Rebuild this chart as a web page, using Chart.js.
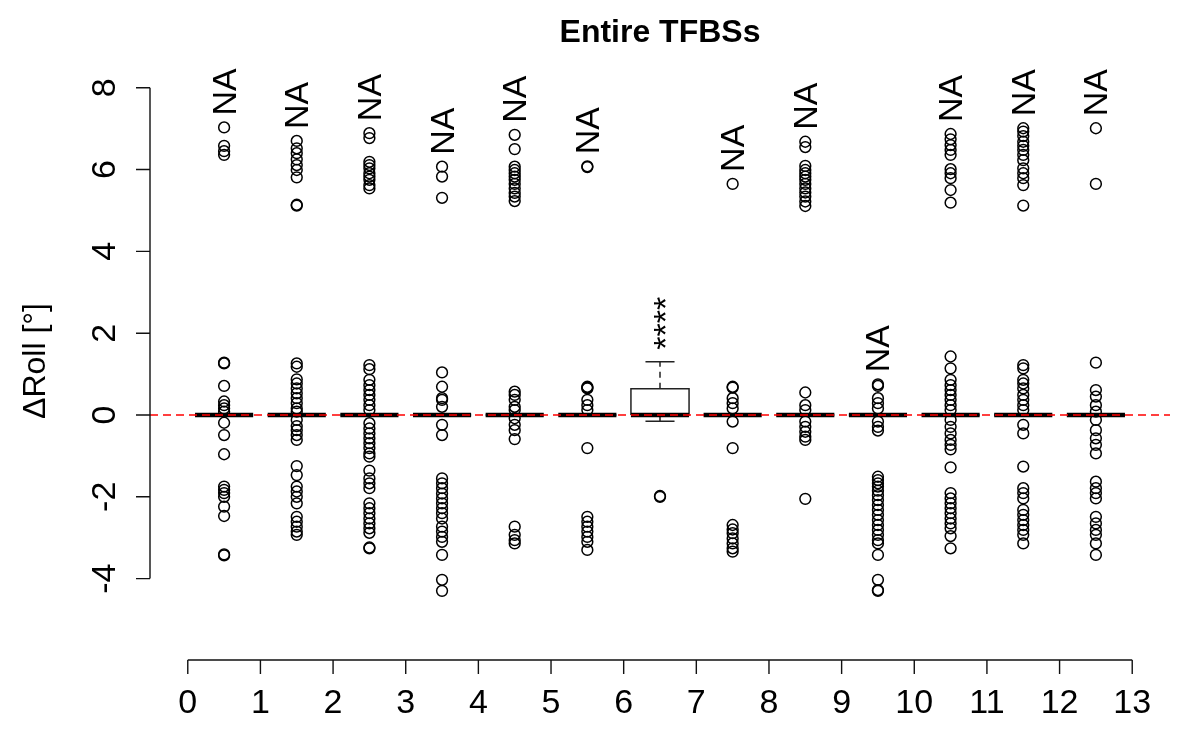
<!DOCTYPE html>
<html>
<head>
<meta charset="utf-8">
<script src="https://cdn.jsdelivr.net/npm/chart.js@4"></script>
<style>
  body { margin: 0; background: #fff; }
  #wrap { width: 1200px; height: 750px; }
</style>
</head>
<body>
<div id="wrap"><canvas id="roll" width="1200" height="750"></canvas></div>
<script>
// group centres on the x axis
const groupPos = [0.5, 1.5, 2.5, 3.5, 4.5, 5.5, 6.5, 7.5, 8.5, 9.5, 10.5, 11.5, 12.5];
const xTicks = [0, 1, 2, 3, 4, 5, 6, 7, 8, 9, 10, 11, 12, 13];
const yTicks = [-4, -2, 0, 2, 4, 6, 8];

// box statistics per group
const medians   = [0, 0, 0, 0, 0, 0, 0, 0, 0, 0, 0, 0, 0];
const q1        = [0, 0, 0, 0, 0, 0, 0, 0, 0, 0, 0, 0, 0];
const q3        = [0, 0, 0, 0, 0, 0, 0.64, 0, 0, 0, 0, 0, 0];
const whiskerLo = [0, 0, 0, 0, 0, 0, -0.15, 0, 0, 0, 0, 0, 0];
const whiskerHi = [0, 0, 0, 0, 0, 0, 1.3, 0, 0, 0, 0, 0, 0];

// text shown above each group
const groupLabels = ['NA', 'NA', 'NA', 'NA', 'NA', 'NA', '****', 'NA', 'NA', 'NA', 'NA', 'NA', 'NA'];

// outliers per group
const outliers = [
  [7.03, 6.58, 6.45, 6.36, 1.28, 1.26, 0.71, 0.33, 0.24, 0.16, 0.08, -0.19, -0.49, -0.96, -1.75, -1.83, -1.91, -2.0, -2.24, -2.47, -3.41, -3.43],
  [6.70, 6.52, 6.4, 6.25, 6.11, 5.99, 5.81, 5.14, 5.12, 1.26, 1.18, 0.87, 0.77, 0.65, 0.53, 0.41, 0.29, 0.16, 0.08, -0.12, -0.27, -0.37, -0.49, -0.61, -1.25, -1.47, -1.75, -1.87, -2.0, -2.16, -2.49, -2.61, -2.73, -2.85, -2.93],
  [6.89, 6.77, 6.19, 6.11, 6.03, 5.91, 5.83, 5.75, 5.62, 5.54, 1.22, 1.12, 0.86, 0.73, 0.61, 0.49, 0.37, 0.24, 0.12, -0.2, -0.33, -0.45, -0.57, -0.69, -0.81, -0.94, -1.02, -1.36, -1.55, -1.67, -1.79, -2.16, -2.28, -2.4, -2.53, -2.65, -2.77, -2.88, -3.26, -3.24],
  [6.07, 5.83, 5.31, 1.04, 0.69, 0.41, 0.37, 0.2, -0.24, -0.49, -1.55, -1.67, -1.79, -1.92, -2.04, -2.16, -2.28, -2.4, -2.53, -2.73, -2.85, -2.98, -3.1, -3.42, -4.03, -4.3],
  [6.85, 6.5, 6.07, 5.99, 5.91, 5.83, 5.75, 5.65, 5.54, 5.43, 5.34, 5.23, 0.57, 0.49, 0.37, 0.2, 0.12, -0.08, -0.24, -0.37, -0.59, -2.73, -2.93, -3.06, -3.14],
  [6.08, 6.06, 0.69, 0.67, 0.65, 0.37, 0.24, 0.12, -0.81, -2.49, -2.61, -2.73, -2.85, -2.98, -3.1, -3.3],
  [-2.0, -1.98],
  [5.65, 0.69, 0.67, 0.41, 0.29, 0.16, -0.16, -0.81, -2.69, -2.8, -2.89, -3.02, -3.14, -3.26, -3.34],
  [6.68, 6.55, 6.09, 5.99, 5.91, 5.83, 5.75, 5.65, 5.54, 5.44, 5.34, 5.22, 5.11, 0.55, 0.24, 0.12, -0.16, -0.29, -0.41, -0.53, -0.61, -2.05],
  [0.75, 0.71, 0.41, 0.29, 0.16, -0.16, -0.29, -0.38, -1.51, -1.59, -1.67, -1.75, -1.85, -1.96, -2.08, -2.2, -2.32, -2.44, -2.57, -2.69, -2.81, -2.93, -3.06, -3.14, -3.42, -4.03, -4.3, -4.28],
  [6.87, 6.74, 6.6, 6.48, 6.36, 6.01, 5.91, 5.79, 5.5, 5.19, 1.43, 1.14, 0.86, 0.73, 0.61, 0.49, 0.37, 0.24, 0.12, -0.12, -0.29, -0.45, -0.61, -0.73, -0.84, -1.28, -1.91, -2.04, -2.16, -2.28, -2.4, -2.53, -2.65, -2.77, -2.96, -3.26],
  [7.01, 6.93, 6.82, 6.68, 6.58, 6.48, 6.36, 6.23, 6.03, 5.91, 5.79, 5.62, 5.12, 1.22, 1.14, 0.86, 0.77, 0.65, 0.49, 0.37, 0.24, 0.12, -0.24, -0.45, -1.26, -1.79, -1.91, -2.04, -2.32, -2.44, -2.57, -2.69, -2.81, -2.93, -3.14],
  [7.01, 5.65, 1.28, 0.61, 0.45, 0.24, 0.08, -0.12, -0.37, -0.57, -0.73, -0.94, -1.63, -1.79, -1.91, -2.04, -2.49, -2.65, -2.81, -2.93, -3.14, -3.42]
];

const xMin = -0.52, xMax = 13.52;
const yMin = -5.99, yMax = 8.63;
const boxHalf = 0.4, capHalf = 0.2;
const FONT = '"Liberation Sans", Arial, Helvetica, sans-serif';

// build line segments, separated by a gap point
function segments(list) {
  const out = [];
  list.forEach(s => { out.push({x: s[0], y: s[1]}, {x: s[2], y: s[3]}, {x: s[0], y: null}); });
  return out;
}

const medianSegs = segments(groupPos.map((p, i) => [p - boxHalf, medians[i], p + boxHalf, medians[i]]));
const boxData = [];
groupPos.forEach((p, i) => {
  boxData.push({x: p - boxHalf, y: q1[i]}, {x: p - boxHalf, y: q3[i]}, {x: p + boxHalf, y: q3[i]},
               {x: p + boxHalf, y: q1[i]}, {x: p - boxHalf, y: q1[i]}, {x: p, y: null});
});
const whiskerSegs = segments(groupPos.flatMap((p, i) => [[p, q3[i], p, whiskerHi[i]], [p, q1[i], p, whiskerLo[i]]]));
const capSegs = segments(groupPos.flatMap((p, i) => [[p - capHalf, whiskerHi[i], p + capHalf, whiskerHi[i]], [p - capHalf, whiskerLo[i], p + capHalf, whiskerLo[i]]]));
const pointData = groupPos.flatMap((p, i) => outliers[i].map(v => ({x: p, y: v})));

const rAxes = {
  id: 'rAxes',
  afterDraw(chart) {
    const ctx = chart.ctx;
    const xs = chart.scales.x, ys = chart.scales.y;
    const area = chart.chartArea;
    ctx.save();
    ctx.strokeStyle = '#111';
    ctx.fillStyle = '#000';
    ctx.lineWidth = 1.4;

    // y axis
    ctx.beginPath();
    ctx.moveTo(area.left, ys.getPixelForValue(yTicks[0]));
    ctx.lineTo(area.left, ys.getPixelForValue(yTicks[yTicks.length - 1]));
    yTicks.forEach(t => {
      const py = ys.getPixelForValue(t);
      ctx.moveTo(area.left, py);
      ctx.lineTo(area.left - 14, py);
    });
    ctx.stroke();
    ctx.font = '34px ' + FONT;
    ctx.textAlign = 'center';
    ctx.textBaseline = 'alphabetic';
    yTicks.forEach(t => {
      ctx.save();
      ctx.translate(area.left - 35, ys.getPixelForValue(t));
      ctx.rotate(-Math.PI / 2);
      ctx.fillText(String(t), 0, 0);
      ctx.restore();
    });

    // x axis
    const by = area.bottom;
    ctx.beginPath();
    ctx.moveTo(xs.getPixelForValue(xTicks[0]), by);
    ctx.lineTo(xs.getPixelForValue(xTicks[xTicks.length - 1]), by);
    xTicks.forEach(t => {
      const px = xs.getPixelForValue(t);
      ctx.moveTo(px, by);
      ctx.lineTo(px, by + 14);
    });
    ctx.stroke();
    xTicks.forEach(t => ctx.fillText(String(t), xs.getPixelForValue(t), by + 53));

    // axis title
    ctx.save();
    ctx.font = '32px ' + FONT;
    ctx.translate(45, (area.top + area.bottom) / 2);
    ctx.rotate(-Math.PI / 2);
    ctx.fillText('\u0394Roll [\u00B0]', 0, 0);
    ctx.restore();

    // main title
    ctx.font = 'bold 32px ' + FONT;
    ctx.fillText('Entire TFBSs', (area.left + area.right) / 2, 42);

    // group labels, rotated, just above the highest mark
    ctx.font = '34px ' + FONT;
    ctx.textAlign = 'left';
    groupPos.forEach((p, i) => {
      const top = Math.max(whiskerHi[i], ...outliers[i]);
      const m = ctx.measureText(groupLabels[i]);
      const shift = (m.actualBoundingBoxAscent - m.actualBoundingBoxDescent) / 2;
      ctx.save();
      ctx.translate(xs.getPixelForValue(p), ys.getPixelForValue(top) - 12);
      ctx.rotate(-Math.PI / 2);
      ctx.fillText(groupLabels[i], 0, shift);
      ctx.restore();
    });
    ctx.restore();
  }
};

new Chart(document.getElementById('roll'), {
  type: 'scatter',
  data: {
    datasets: [
      {
        data: [{x: xMin, y: 0}, {x: xMax, y: 0}],
        showLine: true, borderColor: '#ff0000', borderWidth: 1.6, borderDash: [8, 5],
        pointRadius: 0, order: 0
      },
      {
        data: medianSegs, showLine: true, spanGaps: false,
        borderColor: '#000', borderWidth: 4.5, pointRadius: 0, order: 1
      },
      {
        data: boxData, showLine: true, spanGaps: false,
        borderColor: '#222', borderWidth: 1.5, pointRadius: 0, order: 2
      },
      {
        data: whiskerSegs, showLine: true, spanGaps: false, borderDash: [6, 5],
        borderColor: '#222', borderWidth: 1.5, pointRadius: 0, order: 2
      },
      {
        data: capSegs, showLine: true, spanGaps: false,
        borderColor: '#222', borderWidth: 1.5, pointRadius: 0, order: 2
      },
      {
        data: pointData, pointStyle: 'circle', pointRadius: 5.4,
        backgroundColor: 'rgba(0,0,0,0)', borderColor: '#000', borderWidth: 1.5, order: 3
      }
    ]
  },
  options: {
    responsive: false,
    animation: false,
    layout: { padding: { left: 150, right: 30, top: 62, bottom: 90 } },
    plugins: { legend: { display: false }, tooltip: { enabled: false }, title: { display: false } },
    scales: {
      x: { type: 'linear', min: xMin, max: xMax, display: false },
      y: { type: 'linear', min: yMin, max: yMax, display: false }
    },
    elements: { line: { tension: 0 } }
  },
  plugins: [rAxes]
});
</script>
</body>
</html>
